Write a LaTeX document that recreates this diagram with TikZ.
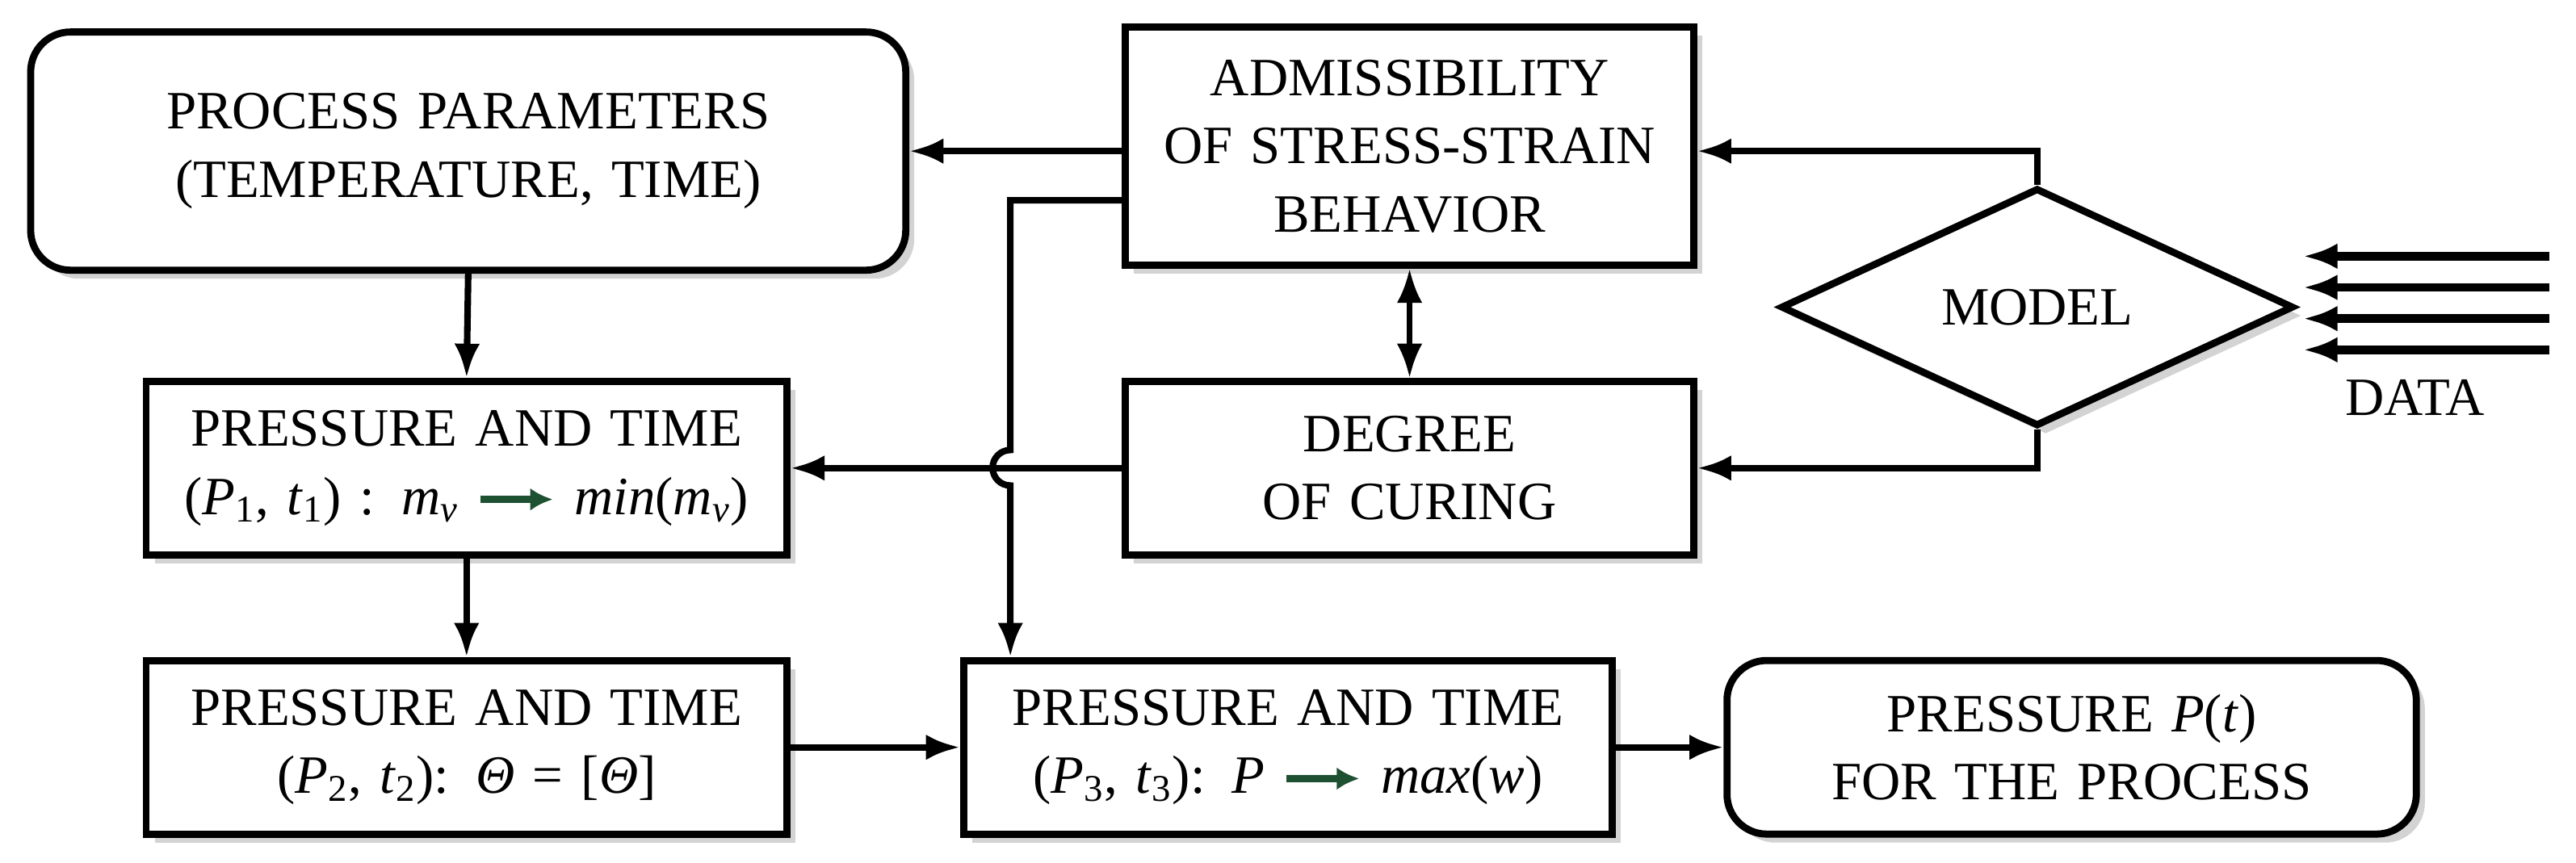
\documentclass[tikz,border=0pt]{standalone}
\usepackage{fontspec}
\setmainfont{Liberation Serif}
\usetikzlibrary{shapes.geometric,shadows,arrows.meta}
\definecolor{arrgreen}{RGB}{30,80,50}
\newcommand{\garr}{\tikz[x=1cm,y=1cm,baseline=-0.6ex]\draw[arrgreen,line width=2.5pt,-{Latex[length=8pt,width=8pt]}] (0,0) -- (0.9,0);}
\begin{document}
\begin{tikzpicture}[x=0.02034cm, y=-0.02034cm, >={Latex[length=12pt,width=9pt]},
    box/.style={rectangle, draw, line width=2.5pt, fill=white, align=center, font=\fontsize{19}{24}\selectfont, drop shadow={opacity=0.35, shadow xshift=3pt, shadow yshift=-3pt}},
    rbox/.style={box, rounded corners=14pt},
    flow/.style={line width=2.3pt, ->}]
    \useasboundingbox (0,0) rectangle (1568,525);
    \node[rbox, text width=10.6cm, minimum height=2.95cm] (proc) at (285,92) {PROCESS PARAMETERS\\(TEMPERATURE, TIME)};
    \node[box, text width=6.8cm, minimum height=2.95cm] (adm) at (858,89) {ADMISSIBILITY\\OF STRESS-STRAIN\\BEHAVIOR};
    \node[box, text width=7.7cm, minimum height=2.15cm] (p1) at (284,285) {PRESSURE AND TIME\\(\textit{P}\textsubscript{1}, \textit{t}\textsubscript{1}) : \textit{m\textsubscript{v}} \garr\ \textit{min}(\textit{m\textsubscript{v}})};
    \node[box, text width=6.8cm, minimum height=2.15cm] (deg) at (858,285) {DEGREE\\OF CURING};
    \node[diamond, draw, line width=2.5pt, fill=white, aspect=2.2, minimum width=6.35cm, minimum height=2.95cm, inner sep=0pt, font=\fontsize{19}{24}\selectfont, drop shadow={opacity=0.35, shadow xshift=3pt, shadow yshift=-3pt}] (model) at (1240,187) {MODEL};
    \node[box, text width=7.7cm, minimum height=2.15cm] (p2) at (284,455) {PRESSURE AND TIME\\(\textit{P}\textsubscript{2}, \textit{t}\textsubscript{2}): \textit{Θ} = [\textit{Θ}]};
    \node[box, text width=7.8cm, minimum height=2.15cm] (p3) at (784,455) {PRESSURE AND TIME\\(\textit{P}\textsubscript{3}, \textit{t}\textsubscript{3}): \textit{P} \garr\ \textit{max}(\textit{w})};
    \node[rbox, text width=8.3cm, minimum height=2.15cm] (out) at (1261,455) {PRESSURE \textit{P}(\textit{t})\\FOR THE PROCESS};
    \node[font=\fontsize{19}{24}\selectfont] (data) at (1470,242) {DATA};
    \coordinate (din1) at (1552,156);
    \coordinate (din2) at (1552,175);
    \coordinate (din3) at (1552,194);
    \coordinate (din4) at (1552,213);
    \foreach \i in {1,...,4}
        \draw[line width=3pt, ->] (din\i) -- ++(-150,0);
    % connectors
    \draw[flow] (adm.west |- 0,92) -- (proc.east |- 0,92);
    \draw[flow] (deg.west) -- (p1.east);
    \draw[flow] (proc.south) -- (p1.north);
    \draw[flow] (p1.south) -- (p2.north);
    \draw[flow] (p2.east) -- (p3.west);
    \draw[flow] (p3.east) -- (out.west);
    \draw[line width=1.8pt, <->] (adm.south) -- (deg.north);
    \draw[flow] (model.north) -- (1240,92) -- (adm.east |- 0,92);
    \draw[flow] (model.south) -- (1240,285) -- (deg.east);
    \draw[flow] (adm.west |- 0,122) -- (615,122) -- (615,274) arc[start angle=90, end angle=270, radius=0.22cm] -- (p3.north -| 615,0);
\end{tikzpicture}
\end{document}
